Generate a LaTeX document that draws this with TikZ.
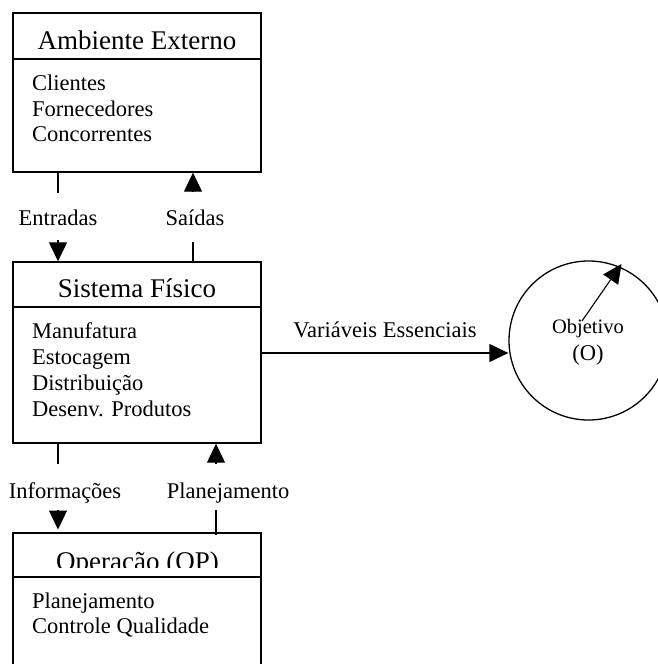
\documentclass[tikz,border=0pt]{standalone}
\usepackage{fontspec}
\setmainfont{Liberation Serif}
\usetikzlibrary{arrows.meta}
\newcommand{\titlefont}{\fontsize{27}{30}\selectfont}
\newcommand{\bodyfont}{\fontsize{22.5}{25.5}\selectfont}
\newcommand{\smallbodyfont}{\fontsize{20.5}{24}\selectfont}
\begin{document}
\begin{tikzpicture}[x=1pt,y=-1pt,
  ln/.style={line width=1.3pt},
  arr/.style={line width=1.3pt,-{Triangle[length=19pt,width=18pt]}},
  blockbox/.style={draw,line width=1.4pt,rectangle,inner sep=0pt,minimum width=248pt},
  ttl/.style={font=\titlefont,anchor=base,inner sep=0pt},
  itm/.style={font=\bodyfont,anchor=base west,inner sep=0pt},
  lbl/.style={font=\bodyfont,anchor=base,inner sep=0pt}]
\useasboundingbox (0,0) rectangle (658,664);
\clip (0,0) rectangle (658,664);

% ---- Ambiente Externo ----
\node[blockbox,minimum height=159pt] (amb) at (137,92.5) {};
\draw[line width=1.4pt] (13,59) coordinate (ambL) -- (ambL -| amb.east);
\node[ttl] (ambT) at (137,49) {Ambiente Externo};
\node[itm] (amb1) at (32,90.7) {Clientes};
\node[itm] (amb2) at (32,116) {Fornecedores};
\node[itm] (amb3) at (32,141.5) {Concorrentes};

% ---- Sistema Fisico ----
\node[blockbox,minimum height=181pt] (sis) at (137,352.5) {};
\draw[line width=1.4pt] (13,307) coordinate (sisL) -- (sisL -| sis.east);
\node[ttl] (sisT) at (137,297) {Sistema Físico};
\node[itm] (sis1) at (32,338) {Manufatura};
\node[itm] (sis2) at (32,364) {Estocagem};
\node[itm] (sis3) at (32,390) {Distribuição};
\node[itm] (sis4) at (32,416) {Desenv. Produtos};

% ---- Operacao (box runs past the lower edge) ----
\coordinate (opNW) at (13,533);
\coordinate (opNE) at (261,533);
\draw[line width=1.4pt] (13,680) -- (opNW) -- (opNE) -- (261,680);
\draw[line width=1.4pt] (13,577) coordinate (opL) -- (opL -| opNE);
\begin{scope}
  \clip (13,533) rectangle (261,567.5);
  \node[ttl] (opT) at (137.5,570) {Operação (OP)};
\end{scope}
\node[itm] (op1) at (32,608) {Planejamento};
\node[itm] (op2) at (32,633) {Controle Qualidade};

% ---- Objetivo ----
\node[circle,draw,line width=1.3pt,minimum size=159pt,inner sep=0pt] (obj) at (588.5,340.5) {};
\node[font=\smallbodyfont,anchor=base,inner sep=0pt] (objT) at (588,333) {Objetivo};
\node[font=\bodyfont,anchor=base,inner sep=0pt] (objO) at (588,360) {(O)};
\coordinate (objS) at (582,321);
\coordinate (objE) at (621.5,264);
\draw[line width=1.1pt,-{Triangle[length=19pt,width=18pt]}] (objS) -- (objE);

% ---- Entradas ----
\coordinate (e1) at (58,193);
\coordinate (e2) at (58,240);
\draw[ln] (amb.south -| e1) -- (e1);
\node[lbl] (entL) at (58,225) {Entradas};
\draw[arr] (e2) -- (sis.north -| e2);

% ---- Saidas ----
\coordinate (s1) at (193,242);
\coordinate (s2) at (193,192);
\draw[ln] (sis.north -| s1) -- (s1);
\node[lbl] (saiL) at (195,225) {Saídas};
\draw[arr] (s2) -- (amb.south -| s2);

% ---- Informacoes ----
\coordinate (i1) at (58,464);
\coordinate (i2) at (58,510);
\coordinate (i3) at (58,529.5);
\draw[ln] (sis.south -| i1) -- (i1);
\node[lbl] (infL) at (65,498) {Informações};
\draw[arr] (i2) -- (i3);

% ---- Planejamento ----
\coordinate (p1) at (216,535);
\coordinate (p2) at (216,510);
\coordinate (p3) at (216,464);
\draw[ln] (p1) -- (p2);
\node[lbl] (plaL) at (228,498) {Planejamento};
\draw[arr] (p3) -- (sis.south -| p3);

% ---- Variaveis Essenciais ----
\coordinate (v1) at (261,353);
\draw[arr] (v1) -- (obj.west |- v1);
\node[lbl] (varL) at (385,337.5) {Variáveis Essenciais};
\end{tikzpicture}
\end{document}
